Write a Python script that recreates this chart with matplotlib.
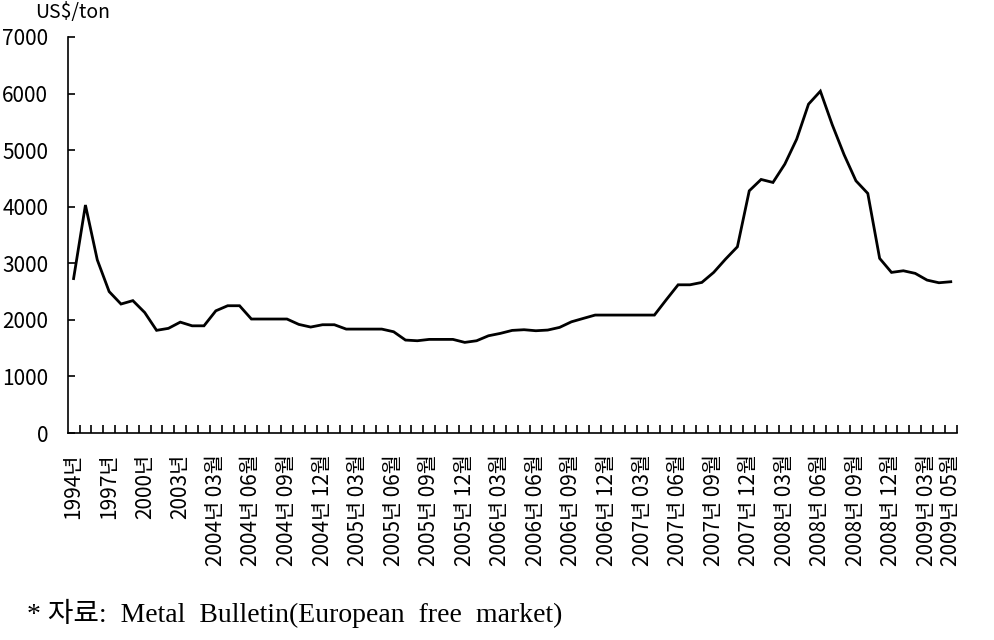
import matplotlib
matplotlib.use("Agg")
import matplotlib.pyplot as plt
from matplotlib.ticker import FixedLocator

plt.rcParams['font.family'] = ['Noto Sans CJK KR', 'DejaVu Sans']

# yearly points 1994-2003, then monthly 2004.01 - 2009.05
years = [str(y) + "년" for y in range(1994, 2004)]
months = [f"{y}년 {m:02d}월" for y in range(2004, 2010) for m in range(1, 13)][:65]
categories = years + months

prices = [2730, 4030, 3060, 2500, 2280, 2340, 2130, 1815, 1850, 1960,
          1895, 1895, 2160, 2250, 2250, 2015, 2015, 2015, 2015, 1920,
          1873, 1914, 1914, 1837, 1837, 1837, 1837, 1790, 1643, 1631,
          1655, 1655, 1655, 1602, 1631, 1719, 1761, 1814, 1826, 1808,
          1820, 1867, 1966, 2026, 2085, 2085, 2085, 2085, 2085, 2085,
          2356, 2620, 2620, 2662, 2839, 3074, 3292, 4281, 4482, 4429,
          4753, 5194, 5813, 6042, 5450, 4920, 4458, 4235, 3087, 2839,
          2868, 2822, 2703, 2656, 2674]

# label every third category plus the last one
label_idx = list(range(0, len(categories), 3))
if label_idx[-1] != len(categories) - 1:
    label_idx.append(len(categories) - 1)

fig = plt.figure(figsize=(9.95, 6.4), dpi=100)
ax = fig.add_axes([0.068, 0.3234, 0.8935, 0.6188])

x = list(range(len(prices)))
ax.plot(x, prices, color='black', linewidth=2.0, solid_joinstyle='miter')

ax.set_xlim(-0.5, len(prices) - 0.5)
ax.set_ylim(0, 7000)
ax.set_yticks(range(0, 7001, 1000))
ax.tick_params(axis='y', direction='in', length=5, width=1.2, pad=14,
               labelsize=15)

ax.set_xticks(label_idx)
ax.set_xticklabels([categories[i] for i in label_idx], rotation=90,
                   fontsize=15)
ax.tick_params(axis='x', which='major', length=0, pad=15)
ax.xaxis.set_minor_locator(FixedLocator([i + 0.5 for i in range(len(prices))]))
ax.tick_params(axis='x', which='minor', direction='in', length=6, width=1.2)

for side in ['top', 'right']:
    ax.spines[side].set_visible(False)
for side in ['left', 'bottom']:
    ax.spines[side].set_linewidth(1.2)

fig.text(0.035, 0.997, "US$/ton", fontsize=14, va='top', ha='left')
fig.text(0.027, 0.042, "* 자료:  Metal  Bulletin(European  free  market)",
         fontsize=20, va='center', ha='left',
         family=['Liberation Serif', 'Noto Sans CJK KR'])

fig.savefig("out.png", dpi=100)
